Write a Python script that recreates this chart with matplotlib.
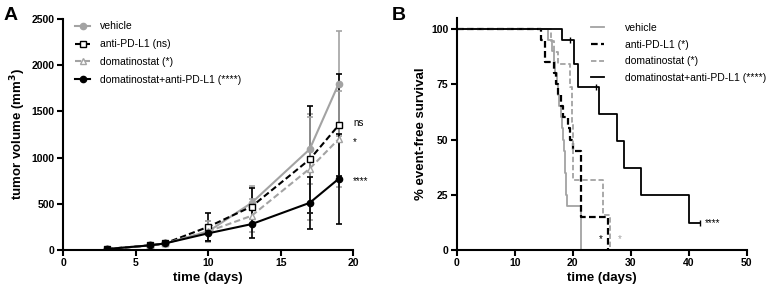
import numpy as np
import matplotlib.pyplot as plt
from matplotlib.lines import Line2D

plt.rcParams['font.family'] = ['Liberation Sans', 'DejaVu Sans']

GREY = "#a3a3a3"
DASH = (0, (3, 1.5))

# ------------------------------- PANEL A DATA ------------------------------
days = [3, 6, 7, 10, 13, 17, 19]

vehicle_mean = [10, 50, 70, 200, 510, 1090, 1800]
vehicle_sd = [5, 10, 10, 110, 180, 380, 570]

anti_mean = [10, 50, 70, 250, 470, 980, 1350]
anti_sd = [5, 10, 10, 150, 200, 575, 550]

doma_mean = [10, 50, 70, 200, 370, 880, 1200]
doma_sd = [5, 10, 10, 110, 180, 560, 520]

combo_mean = [10, 50, 70, 180, 280, 510, 770]
combo_sd = [5, 10, 10, 80, 150, 280, 490]

sig_labels_a = ["ns", "*", "****"]
sig_y_a = [1370, 1170, 740]

# ------------------------------- PANEL B DATA ------------------------------
veh_t = [0, 15.7, 16.4, 16.8, 17.0, 17.3, 17.5, 17.7, 17.9, 18.1, 18.3,
         18.5, 18.6, 18.7, 18.8, 18.9, 19.0, 21.5]
veh_s = [100, 95, 90, 85, 80, 75, 70, 65, 60, 55, 50,
         45, 40, 35, 30, 25, 20, 0]

anti_t = [0, 14.6, 15.2, 16.7, 17.1, 17.5, 17.9, 18.3, 19.2, 19.5, 20.0, 21.5, 26.0]
anti_s = [100, 95, 85, 80, 75, 70, 65, 60, 55, 50, 45, 15, 0]

doma_t = [0, 16.3, 16.8, 17.4, 19.6, 19.8, 20.0, 25.2, 26.4]
doma_s = [100, 94.7, 89.5, 84.2, 73.7, 57.9, 31.6, 15.8, 0]

combo_t = [0, 18.1, 20.2, 20.9, 24.5, 27.6, 28.8, 31.7, 40.0, 42.0]
combo_s = [100, 95, 84.4, 74.0, 61.7, 49.4, 37.0, 24.7, 12.4, 12.4]
combo_cens_t = [19.5, 24.0, 42.0]
combo_cens_s = [95, 74.0, 12.4]

# ------------------------------- FIGURE -------------------------------------
fig = plt.figure(figsize=(7.78, 2.91), dpi=100)
axA = fig.add_axes([0.081, 0.141, 0.373, 0.794])
axB = fig.add_axes([0.587, 0.141, 0.373, 0.797])

for ax in (axA, axB):
    for side in ("top", "right"):
        ax.spines[side].set_visible(False)
    for side in ("left", "bottom"):
        ax.spines[side].set_linewidth(1.5)
    ax.tick_params(width=1.5, length=4, labelsize=7.5, pad=2)

# Panel A
eb = dict(capsize=2.5, elinewidth=1.2, capthick=1.2, markersize=4.5, linewidth=1.5)
axA.errorbar(days, vehicle_mean, yerr=vehicle_sd, color=GREY, marker="o",
             linestyle="-", **eb)
axA.errorbar(days, anti_mean, yerr=anti_sd, color="black", marker="s",
             markerfacecolor="white", linestyle=DASH, **eb)
axA.errorbar(days, doma_mean, yerr=doma_sd, color=GREY, marker="^",
             markerfacecolor="white", linestyle=DASH, **eb)
axA.errorbar(days, combo_mean, yerr=combo_sd, color="black", marker="o",
             linestyle="-", **eb)

for lab, y in zip(sig_labels_a, sig_y_a):
    axA.text(20.0, y, lab, fontsize=7, va="center", ha="left")

handles_a = [
    Line2D([], [], color=GREY, marker="o", markersize=4.5, linewidth=1.5),
    Line2D([], [], color="black", marker="s", markerfacecolor="white",
           markersize=4.5, linewidth=1.5, linestyle=DASH),
    Line2D([], [], color=GREY, marker="^", markerfacecolor="white",
           markersize=4.5, linewidth=1.5, linestyle=DASH),
    Line2D([], [], color="black", marker="o", markersize=4.5, linewidth=1.5),
]
labels_a = ["vehicle", "anti-PD-L1 (ns)", "domatinostat (*)",
            "domatinostat+anti-PD-L1 (****)"]

axA.set_xlim(0, 20)
axA.set_ylim(0, 2500)
axA.set_xticks([0, 5, 10, 15, 20])
axA.set_yticks([0, 500, 1000, 1500, 2000, 2500])
axA.set_xlabel("time (days)", fontsize=9.5, fontweight="bold", labelpad=3)
axA.set_ylabel(r"tumor volume (mm$^\mathbf{3}$)", fontsize=9.5,
               fontweight="bold", labelpad=3)
axA.legend(handles_a, labels_a, loc="upper left", bbox_to_anchor=(0.01, 1.03),
           frameon=False, fontsize=7.5, handlelength=1.4, handletextpad=1.0,
           labelspacing=0.75)

# Panel B
axB.plot(veh_t, veh_s, drawstyle="steps-post", color=GREY, linewidth=1.3,
         label="vehicle")
axB.plot(anti_t, anti_s, drawstyle="steps-post", color="black", linewidth=1.6,
         linestyle=DASH, label="anti-PD-L1 (*)")
axB.plot(doma_t, doma_s, drawstyle="steps-post", color=GREY, linewidth=1.3,
         linestyle=DASH, label="domatinostat (*)")
axB.plot(combo_t, combo_s, drawstyle="steps-post", color="black", linewidth=1.3,
         label="domatinostat+anti-PD-L1 (****)")
axB.plot(combo_cens_t, combo_cens_s, linestyle="none", marker="|",
         color="black", markersize=4, markeredgewidth=1)

axB.text(42.8, 12.4, "****", fontsize=7, va="center", ha="left")
axB.text(24.8, 5, "*", fontsize=7, va="center", ha="center", color="black")
axB.text(28.1, 5, "*", fontsize=7, va="center", ha="center", color=GREY)

axB.set_xlim(0, 50)
axB.set_ylim(0, 105)
axB.set_xticks([0, 10, 20, 30, 40, 50])
axB.set_yticks([0, 25, 50, 75, 100])
axB.set_xlabel("time (days)", fontsize=9.5, fontweight="bold", labelpad=3)
axB.set_ylabel("% event-free survival", fontsize=9.5, fontweight="bold",
               labelpad=3)
axB.legend(loc="upper left", bbox_to_anchor=(0.43, 1.02), frameon=False,
           fontsize=7.5, handlelength=1.3, handletextpad=2.0, labelspacing=0.65)

for ax in (axA, axB):
    for lab in ax.get_xticklabels() + ax.get_yticklabels():
        lab.set_fontweight("bold")

fig.text(0.004, 0.975, "A", fontsize=14, fontweight="bold", va="top")
fig.text(0.503, 0.975, "B", fontsize=14, fontweight="bold", va="top")

fig.savefig("out.png", dpi=100)
plt.close(fig)
